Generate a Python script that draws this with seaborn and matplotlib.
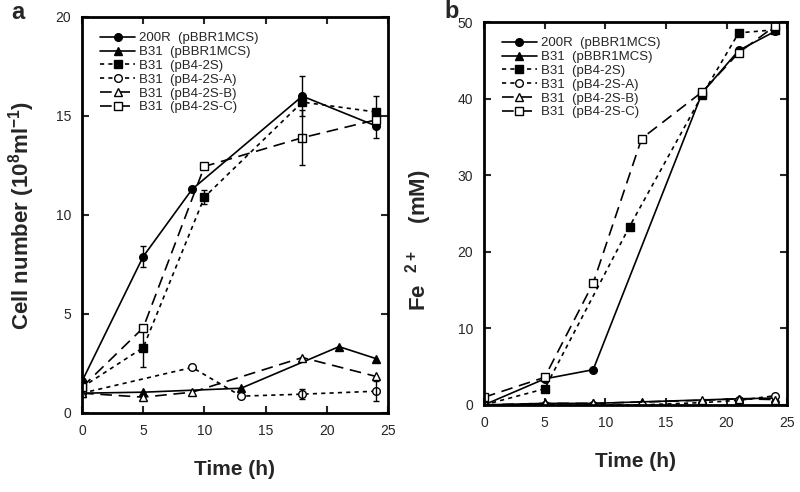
import numpy as np
import pandas as pd
import seaborn as sns
import matplotlib.pyplot as plt

# ------------------------------
# data
# ------------------------------
labels = ['200R  (pBBR1MCS)', 'B31  (pBBR1MCS)', 'B31  (pB4-2S)',
          'B31  (pB4-2S-A)', 'B31  (pB4-2S-B)', 'B31  (pB4-2S-C)']

# panel a : cell number (10^8 / ml)
t_200r_a = [0, 5, 9, 18, 24]
y_200r_a = [1.6, 7.9, 11.3, 16.0, 14.5]
e_200r_a = [0, 0.55, 0, 1.0, 0.6]

t_mcs_a = [0, 5, 13, 21, 24]
y_mcs_a = [1.0, 1.05, 1.25, 3.35, 2.75]
e_mcs_a = [0, 0, 0, 0, 0]

t_2s_a = [0, 5, 10, 18, 24]
y_2s_a = [1.3, 3.3, 10.9, 15.7, 15.2]
e_2s_a = [0, 1.0, 0.35, 0, 0.8]

t_2sa_a = [0, 9, 13, 18, 24]
y_2sa_a = [1.0, 2.3, 0.85, 0.95, 1.1]
e_2sa_a = [0, 0, 0, 0.25, 0.5]

t_2sb_a = [0, 5, 9, 18, 24]
y_2sb_a = [1.0, 0.8, 1.05, 2.8, 1.85]
e_2sb_a = [0, 0, 0, 0, 0]

t_2sc_a = [0, 5, 10, 18, 24]
y_2sc_a = [1.3, 4.3, 12.45, 13.9, 14.8]
e_2sc_a = [0, 0, 0, 1.4, 0]

# panel b : Fe2+ (mM)
t_200r_b = [0, 5, 9, 18, 21, 24]
y_200r_b = [0, 3.4, 4.6, 40.8, 46.3, 48.8]

t_mcs_b = [0, 5, 9, 13, 21, 24]
y_mcs_b = [0, 0.2, 0.2, 0.4, 0.8, 0.9]

t_2s_b = [0, 5, 12, 18, 21, 24]
y_2s_b = [0, 2.1, 23.3, 40.5, 48.6, 49.0]

t_2sa_b = [0, 5, 9, 13, 18, 21, 24]
y_2sa_b = [0, 0, 0, 0, 0.3, 0.6, 1.2]

t_2sb_b = [0, 5, 9, 18, 21, 24]
y_2sb_b = [0, 0.2, 0.2, 0.6, 0.8, 0.7]

t_2sc_b = [0, 5, 9, 13, 18, 21, 24]
y_2sc_b = [1.0, 3.6, 15.9, 34.8, 40.9, 46.0, 49.5]

# ------------------------------
# styles
# ------------------------------
markers = ['o', '^', 's', 'o', '^', 's']
filled = [True, True, True, False, False, False]
short_dash = (0, (2.5, 2.5))
long_dash = (0, (7, 4))
styles = ['-', '-', short_dash, short_dash, long_dash, long_dash]

sns.set_theme(style='ticks')
plt.rcParams['font.family'] = ['Liberation Sans', 'DejaVu Sans']
plt.rcParams['mathtext.fontset'] = 'custom'
plt.rcParams['mathtext.rm'] = 'Liberation Sans:bold'
plt.rcParams['mathtext.bf'] = 'Liberation Sans:bold'

fig = plt.figure(figsize=(8, 4.92), dpi=100)
ax_a = fig.add_axes([0.1025, 0.1606, 0.3825, 0.805])
ax_b = fig.add_axes([0.605, 0.177, 0.379, 0.778])


def draw(ax, series, errs=None):
    for i, (t, y) in enumerate(series):
        df = pd.DataFrame({'t': t, 'y': y})
        sns.lineplot(data=df, x='t', y='y', ax=ax, color='black', lw=1.2,
                     linestyle=styles[i], marker=markers[i], markersize=5.5,
                     markerfacecolor='black' if filled[i] else 'white',
                     markeredgecolor='black', markeredgewidth=1.0,
                     errorbar=None, label=labels[i])
        if errs is not None:
            e = np.array(errs[i])
            m = e > 0
            if m.any():
                ax.errorbar(np.array(t)[m], np.array(y)[m], yerr=e[m], fmt='none',
                            ecolor='black', elinewidth=1.0, capsize=2.5, capthick=1.0)
    ax.legend(loc='upper left', frameon=False, fontsize=9.5,
              handlelength=2.6, handletextpad=0.3, labelspacing=0.12,
              borderaxespad=0.3, bbox_to_anchor=(0.03, 0.985))
    ax.set_xlim(0, 25)
    ax.set_xticks([0, 5, 10, 15, 20, 25])
    ax.tick_params(direction='in', top=True, right=True, length=5, width=1.5,
                   labelsize=10, pad=8)
    for s in ax.spines.values():
        s.set_linewidth(2)
        s.set_color('black')
    ax.set_xlabel('Time (h)', fontsize=15, fontweight='bold', labelpad=16)


draw(ax_a,
     [(t_200r_a, y_200r_a), (t_mcs_a, y_mcs_a), (t_2s_a, y_2s_a),
      (t_2sa_a, y_2sa_a), (t_2sb_a, y_2sb_a), (t_2sc_a, y_2sc_a)],
     [e_200r_a, e_mcs_a, e_2s_a, e_2sa_a, e_2sb_a, e_2sc_a])
ax_a.set_ylim(0, 20)
ax_a.set_yticks([0, 5, 10, 15, 20])
ax_a.set_ylabel(r'Cell number (10$^{\mathbf{8}}$ml$^{\mathbf{-1}}$)', fontsize=16,
                fontweight='bold')
ax_a.yaxis.set_label_coords(-0.148, 0.5)

draw(ax_b,
     [(t_200r_b, y_200r_b), (t_mcs_b, y_mcs_b), (t_2s_b, y_2s_b),
      (t_2sa_b, y_2sa_b), (t_2sb_b, y_2sb_b), (t_2sc_b, y_2sc_b)])
ax_b.set_ylim(0, 50)
ax_b.set_yticks([0, 10, 20, 30, 40, 50])
ax_b.set_ylabel(r'Fe  $^{\mathbf{2+}}$    (mM)', fontsize=16, fontweight='bold')
ax_b.yaxis.set_label_coords(-0.165, 0.43)

fig.text(0.022, 0.975, 'a', fontsize=17, fontweight='bold', va='center', ha='center')
fig.text(0.565, 0.977, 'b', fontsize=17, fontweight='bold', va='center', ha='center')

plt.savefig('out.png', dpi=100)
